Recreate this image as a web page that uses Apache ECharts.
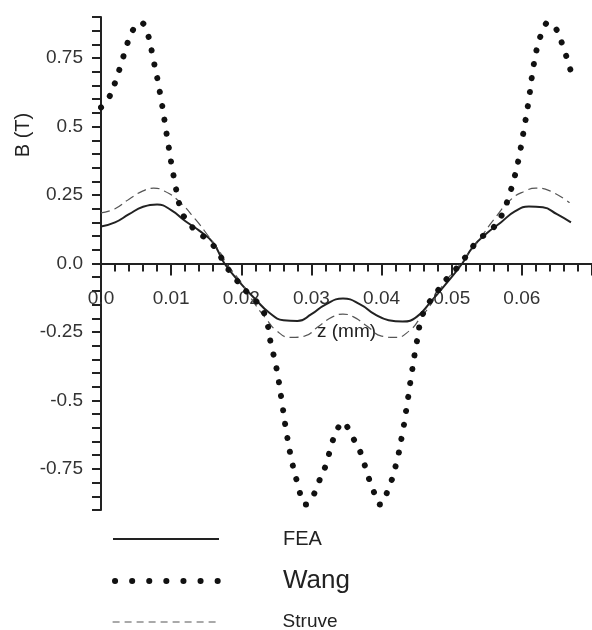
<!DOCTYPE html>
<html>
<head>
<meta charset="utf-8">
<script src="https://cdn.jsdelivr.net/npm/echarts@6/dist/echarts.min.js"></script>
<style>
  html, body { margin: 0; padding: 0; background: #fff; }
  #main { width: 592px; height: 630px; }
</style>
</head>
<body>
<div id="main"></div>
<script>
// z (mm) positions and B (T) values
var feaZ = [0, 0.002, 0.004, 0.006, 0.008, 0.010, 0.012, 0.014, 0.016, 0.0176, 0.020, 0.022, 0.024, 0.026, 0.028, 0.030, 0.032, 0.0345,
            0.037, 0.039, 0.041, 0.043, 0.045, 0.047, 0.049, 0.0515, 0.053, 0.055, 0.057, 0.059, 0.061, 0.063, 0.065, 0.067];
var feaB = [0.135, 0.15, 0.18, 0.207, 0.215, 0.195, 0.155, 0.12, 0.075, 0.0, -0.075, -0.13, -0.18, -0.207, -0.21, -0.185, -0.15, -0.128,
            -0.15, -0.185, -0.207, -0.212, -0.195, -0.14, -0.08, 0.0, 0.06, 0.11, 0.15, 0.19, 0.208, 0.205, 0.18, 0.15];

var struveZ = [0, 0.002, 0.004, 0.006, 0.0075, 0.009, 0.011, 0.0135, 0.0153, 0.017, 0.0179, 0.020, 0.022, 0.0235, 0.025, 0.027, 0.029, 0.031, 0.033, 0.0345,
               0.036, 0.038, 0.040, 0.042, 0.044, 0.0455, 0.047, 0.049, 0.0513, 0.0525, 0.054, 0.056, 0.0585, 0.0605, 0.062, 0.064, 0.0668];
var struveB = [0.185, 0.20, 0.235, 0.265, 0.275, 0.265, 0.23, 0.16, 0.10, 0.04, 0.0, -0.07, -0.15, -0.20, -0.245, -0.27, -0.265, -0.23, -0.195, -0.185,
               -0.195, -0.23, -0.265, -0.27, -0.245, -0.20, -0.15, -0.07, 0.0, 0.04, 0.09, 0.16, 0.235, 0.265, 0.275, 0.265, 0.222];

var wangZ = [0, 0.001, 0.002, 0.003, 0.004, 0.005, 0.0056, 0.0065, 0.0075, 0.0085, 0.0095, 0.0105, 0.0115, 0.0125, 0.0135, 0.015,
             0.0165, 0.0176, 0.019, 0.021, 0.0225, 0.0235, 0.0242, 0.025, 0.0257, 0.0264, 0.0272, 0.028, 0.0292, 0.030, 0.031,
             0.032, 0.033, 0.0338, 0.0345, 0.0352, 0.036, 0.037, 0.038, 0.0387, 0.0398, 0.041, 0.042, 0.0429, 0.0436, 0.0443,
             0.045, 0.0457, 0.0466, 0.048, 0.0495, 0.0513, 0.0525, 0.054, 0.0559, 0.0572, 0.0582, 0.059, 0.0596, 0.0603, 0.061,
             0.0616, 0.0622, 0.063, 0.0638, 0.0648, 0.0659, 0.067];
var wangB = [0.57, 0.60, 0.66, 0.74, 0.82, 0.87, 0.88, 0.85, 0.74, 0.61, 0.45, 0.30, 0.19, 0.15, 0.12, 0.09,
             0.05, 0.0, -0.05, -0.11, -0.15, -0.20, -0.29, -0.38, -0.49, -0.61, -0.72, -0.80, -0.88, -0.86, -0.80,
             -0.74, -0.65, -0.60, -0.58, -0.60, -0.64, -0.69, -0.77, -0.82, -0.88, -0.82, -0.74, -0.63, -0.52, -0.40,
             -0.29, -0.20, -0.15, -0.10, -0.05, 0.0, 0.044, 0.09, 0.13, 0.18, 0.25, 0.32, 0.39, 0.49, 0.60,
             0.71, 0.79, 0.85, 0.88, 0.86, 0.79, 0.70];

var yLabelValues = [-0.75, -0.5, -0.25, 0, 0.25, 0.5, 0.75];

function pairs(zs, bs) {
  return zs.map(function (z, i) { return [z, bs[i]]; });
}

var font = 'Liberation Sans';
var myChart = echarts.init(document.getElementById('main'));

var gridTop = 17, gridHeight = 493;
var legendItemStyle = { color: 'rgba(0,0,0,0)', borderWidth: 0 };

var option = {
  animation: false,
  grid: { left: 101, top: gridTop, width: 512, height: gridHeight },
  xAxis: {
    type: 'value',
    min: 0,
    max: 0.07,
    interval: 0.01,
    // move the whole axis (line, ticks, labels, name) up to B = 0
    offset: -gridHeight / 2,
    name: 'z (mm)',
    nameLocation: 'middle',
    nameGap: 59,
    nameTextStyle: { fontFamily: font, fontSize: 19, color: '#222' },
    axisLine: { onZero: false, lineStyle: { color: '#222', width: 2 } },
    axisTick: { show: true, length: 12, lineStyle: { color: '#222', width: 2 } },
    minorTick: { show: true, splitNumber: 5, length: 8, lineStyle: { color: '#222', width: 2 } },
    splitLine: { show: false },
    axisLabel: {
      margin: 26,
      fontFamily: font,
      fontSize: 19,
      color: '#333',
      showMaxLabel: false,
      formatter: function (v) { return v === 0 ? '0.0' : v.toFixed(2); }
    }
  },
  yAxis: {
    type: 'value',
    min: -0.9,
    max: 0.9,
    interval: 0.05,
    axisLine: { lineStyle: { color: '#222', width: 2 } },
    axisTick: { show: true, length: 9, lineStyle: { color: '#222', width: 2 } },
    splitLine: { show: false },
    axisLabel: {
      margin: 18,
      fontFamily: font,
      fontSize: 19,
      color: '#333',
      formatter: function (v) {
        var r = Math.round(v * 100) / 100;
        for (var i = 0; i < yLabelValues.length; i++) {
          if (Math.abs(yLabelValues[i] - r) < 1e-6) return r === 0 ? '0.0' : String(r);
        }
        return '';
      }
    }
  },
  graphic: [{
    type: 'text',
    x: 23,
    y: 135,
    rotation: Math.PI / 2,
    style: {
      text: 'B (T)',
      font: '20px "Liberation Sans"',
      fill: '#222',
      align: 'center',
      verticalAlign: 'middle'
    }
  }],
  legend: [
    {
      left: 112, top: 529, padding: 0,
      itemWidth: 106, itemHeight: 20,
      itemStyle: legendItemStyle,
      lineStyle: { width: 2 },
      data: [{ name: 'FEA', textStyle: { fontSize: 20 } }],
      textStyle: { fontFamily: font, color: '#222', padding: [0, 0, 0, 59], lineHeight: 20 }
    },
    {
      left: 112, top: 568, padding: 0,
      itemWidth: 106, itemHeight: 26,
      itemStyle: legendItemStyle,
      lineStyle: { width: 6, type: [0.1, 17], cap: 'round' },
      data: [{ name: 'Wang', textStyle: { fontSize: 26 } }],
      textStyle: { fontFamily: font, color: '#222', padding: [0, 0, 0, 57], lineHeight: 26 }
    },
    {
      left: 112, top: 612, padding: 0,
      itemWidth: 106, itemHeight: 20,
      itemStyle: legendItemStyle,
      lineStyle: { width: 1.2, type: [7, 5] },
      data: [{ name: 'Struve', textStyle: { fontSize: 19 } }],
      textStyle: { fontFamily: font, color: '#222', padding: [0, 0, 0, 59], lineHeight: 20 }
    }
  ],
  series: [
    {
      name: 'FEA',
      type: 'line',
      data: pairs(feaZ, feaB),
      smooth: true,
      symbol: 'none',
      lineStyle: { color: '#222', width: 2 },
      z: 3
    },
    {
      name: 'Struve',
      type: 'line',
      data: pairs(struveZ, struveB),
      smooth: true,
      symbol: 'none',
      lineStyle: { color: '#555', width: 1.2, type: [9, 5] },
      z: 3
    },
    {
      name: 'Wang',
      type: 'line',
      data: pairs(wangZ, wangB),
      smooth: true,
      symbol: 'none',
      lineStyle: { color: '#111', width: 6, type: [0.1, 14], cap: 'round' },
      z: 4
    }
  ]
};
myChart.setOption(option);
</script>
</body>
</html>
